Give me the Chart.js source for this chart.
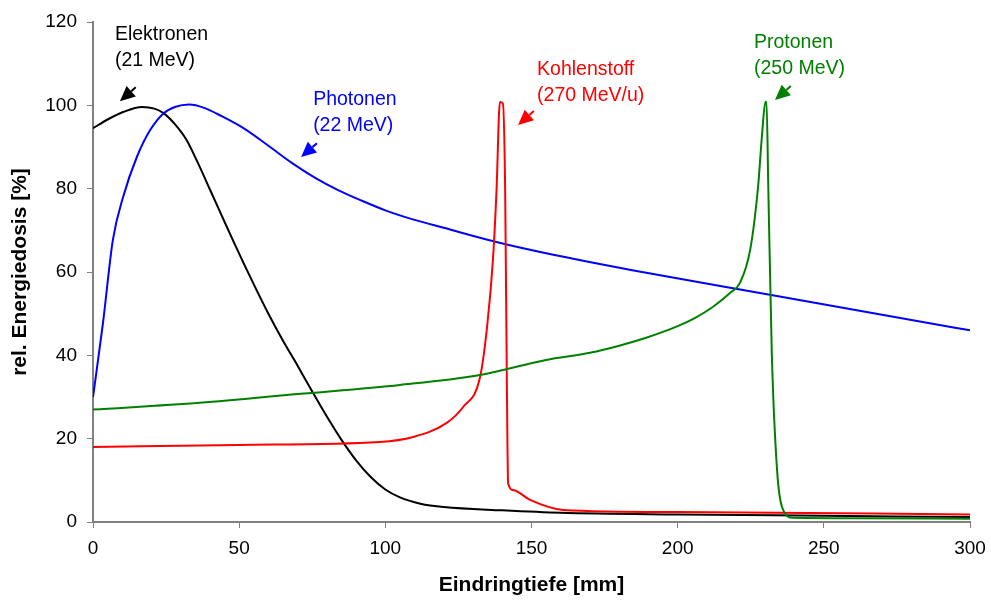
<!DOCTYPE html>
<html>
<head>
<meta charset="utf-8">
<script src="https://cdn.jsdelivr.net/npm/chart.js@4.4.1/dist/chart.umd.min.js"></script>
<style>
  html, body { margin: 0; padding: 0; background: #fff; }
  #wrap { width: 991px; height: 601px; }
</style>
</head>
<body>
<div id="wrap"><canvas id="doseChart" width="991" height="601"></canvas></div>
<script>
// depth in mm, dose in %
const elektronenX = [0, 5, 10.3, 16.8, 21, 24, 28, 32, 36, 40, 44, 48, 52, 56, 60, 65, 70, 75, 80, 85, 90, 95, 100, 105, 112, 120, 140, 160, 200, 250, 300];
const elektronenY = [94.5, 96.6, 98.4, 99.6, 99.2, 98.2, 95.5, 91.7, 86, 79.8, 73.6, 67.4, 61.4, 55.6, 50, 43.5, 37.5, 31.3, 25.3, 19.7, 14.8, 10.8, 7.8, 5.9, 4.4, 3.6, 2.8, 2.2, 1.8, 1.5, 1.2];

const photonenX = [0, 3.4, 6.8, 10.3, 15, 19.5, 24, 28, 33, 38, 44, 52, 60, 68, 76, 84, 92, 100, 110, 120, 138, 155, 184, 232, 300];
const photonenY = [30, 47.7, 67.7, 78, 87.6, 94, 98, 99.6, 100.2, 99.4, 97.4, 94.3, 90.3, 86.2, 82.6, 79.6, 77.1, 74.8, 72.5, 70.6, 67.2, 64.5, 60.5, 54.5, 46];

const kohlenstoffX = [0, 50, 98, 109.5, 121, 126.6, 132.4, 134.8, 136.8, 138, 139.2, 140.2, 141, 141.6, 142, 143.7, 149.5, 160.8, 200, 300];
const kohlenstoffY = [18, 18.5, 19.2, 20.4, 23.8, 27.6, 34.8, 46.8, 62.9, 79, 100.8, 100.5, 79, 31, 9.3, 7.7, 5.3, 2.9, 2.4, 1.8];

const protonenX = [0, 36.6, 70, 105, 132.4, 155, 170, 180, 190, 200, 206, 212, 218, 221.3, 224.8, 227.5, 228.8, 230, 230.4, 231, 232.2, 234, 235.7, 239.5, 260, 300];
const protonenY = [27, 28.6, 30.7, 32.9, 35.3, 38.9, 40.6, 42.3, 44.4, 47, 49, 51.6, 55, 57.4, 65.3, 80.4, 92.4, 100.8, 100.8, 80.4, 40.5, 12.5, 3.6, 1, 0.9, 0.8];

const xTicks = [0, 50, 100, 150, 200, 250, 300];
const yTicks = [0, 20, 40, 60, 80, 100, 120];

// label text, anchor (data units), arrow tip (data units)
const notes = [
  { lines: ["Elektronen", "(21 MeV)"], x: 7.5, y: 116.9, tipX: 9.2, tipY: 101.0, color: "#000000" },
  { lines: ["Photonen", "(22 MeV)"], x: 75.3, y: 101.3, tipX: 71.2, tipY: 87.6, color: "#0000ff" },
  { lines: ["Kohlenstoff", "(270 MeV/u)"], x: 151.9, y: 108.5, tipX: 145.4, tipY: 95.3, color: "#ff0000" },
  { lines: ["Protonen", "(250 MeV)"], x: 226.1, y: 115.0, tipX: 233.3, tipY: 101.3, color: "#008000" },
];

const FONT = "'Liberation Sans', Arial, sans-serif";
const toPoints = (xs, ys) => xs.map((x, i) => ({ x: x, y: ys[i] }));

const notesPlugin = {
  id: "notes",
  afterDatasetsDraw(chart) {
    const ctx = chart.ctx;
    const xs = chart.scales.x;
    const ys = chart.scales.y;
    ctx.save();
    ctx.font = "19.5px " + FONT;
    ctx.textBaseline = "middle";
    ctx.textAlign = "left";
    notes.forEach((n) => {
      ctx.fillStyle = n.color;
      const lx = xs.getPixelForValue(n.x);
      const ly = ys.getPixelForValue(n.y);
      n.lines.forEach((t, i) => ctx.fillText(t, lx, ly + i * 26));

      // arrow pointing down-left
      const tx = xs.getPixelForValue(n.tipX);
      const ty = ys.getPixelForValue(n.tipY);
      const ang = Math.atan2(-14, 16);
      const len = 21, head = 15, half = 7;
      const ex = tx + len * Math.cos(ang), ey = ty + len * Math.sin(ang);
      const bx = tx + head * Math.cos(ang), by = ty + head * Math.sin(ang);
      ctx.strokeStyle = n.color;
      ctx.lineWidth = 2;
      ctx.beginPath();
      ctx.moveTo(ex, ey);
      ctx.lineTo(bx, by);
      ctx.stroke();
      const nx = -Math.sin(ang), ny = Math.cos(ang);
      ctx.beginPath();
      ctx.moveTo(tx, ty);
      ctx.lineTo(bx + nx * half, by + ny * half);
      ctx.lineTo(bx - nx * half, by - ny * half);
      ctx.closePath();
      ctx.fill();
    });
    ctx.restore();
  },
};

function series(label, xs, ys, color) {
  return {
    label: label,
    data: toPoints(xs, ys),
    showLine: true,
    borderColor: color,
    backgroundColor: color,
    borderWidth: 2,
    pointRadius: 0,
    cubicInterpolationMode: "monotone",
  };
}

const ctx = document.getElementById("doseChart").getContext("2d");
new Chart(ctx, {
  type: "scatter",
  data: {
    datasets: [
      series("Protonen", protonenX, protonenY, "#008000"),
      series("Kohlenstoff", kohlenstoffX, kohlenstoffY, "#ff0000"),
      series("Photonen", photonenX, photonenY, "#0000ff"),
      series("Elektronen", elektronenX, elektronenY, "#000000"),
    ],
  },
  options: {
    responsive: false,
    animation: false,
    layout: { padding: { top: 22, right: 21, left: 0, bottom: 0 } },
    plugins: {
      legend: { display: false },
      tooltip: { enabled: false },
    },
    scales: {
      x: {
        type: "linear",
        min: 0,
        max: 300,
        afterBuildTicks: (s) => { s.ticks = xTicks.map((v) => ({ value: v })); },
        afterFit: (s) => {
          s.height = 79;
          s.paddingLeft = 0;
          s.paddingRight = 0;
        },
        title: {
          display: true,
          text: "Eindringtiefe [mm]",
          color: "#000",
          font: { family: FONT, size: 21, weight: "bold" },
          padding: { top: 6, bottom: 3 },
        },
        ticks: {
          color: "#000",
          font: { family: FONT, size: 19 },
          padding: 9,
          maxRotation: 0,
        },
        grid: { drawOnChartArea: false, drawTicks: true, tickLength: 6, color: "#808080" },
        border: { color: "#808080", width: 2 },
      },
      y: {
        type: "linear",
        min: 0,
        max: 120,
        afterBuildTicks: (s) => { s.ticks = yTicks.map((v) => ({ value: v })); },
        afterFit: (s) => {
          s.width = 93;
          s.paddingTop = 0;
          s.paddingBottom = 0;
        },
        title: {
          display: true,
          text: "rel. Energiedosis [%]",
          color: "#000",
          font: { family: FONT, size: 21, weight: "bold" },
          padding: { top: 8, bottom: 8 },
        },
        ticks: {
          color: "#000",
          font: { family: FONT, size: 19 },
          padding: 10,
        },
        grid: { drawOnChartArea: false, drawTicks: true, tickLength: 6, color: "#808080" },
        border: { color: "#808080", width: 2 },
      },
    },
  },
  plugins: [notesPlugin],
});
</script>
</body>
</html>
